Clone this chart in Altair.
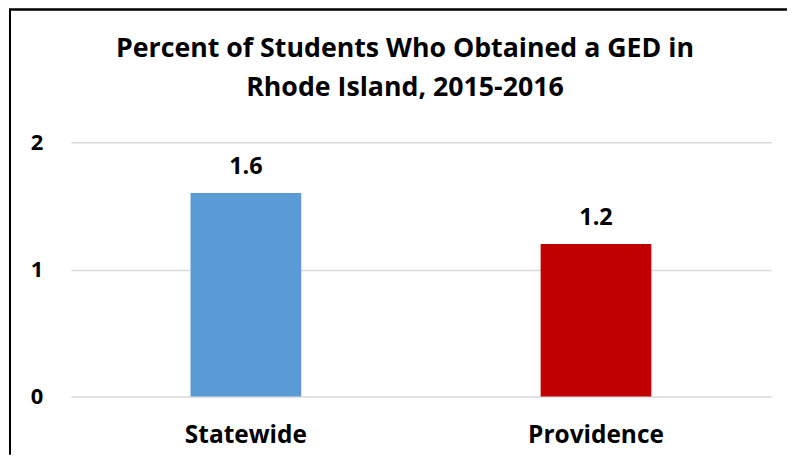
import altair as alt
import pandas as pd

categories = ["Statewide", "Providence"]
values = [1.6, 1.2]
colors = ["#5B9BD5", "#C00000"]
y_ticks = [0, 1, 2]

df = pd.DataFrame({"area": categories, "pct": values, "color": colors})

W, H = 702, 255
FONT = "Open Sans"

base = alt.Chart(df).encode(
    x=alt.X("area:N", sort=categories,
            scale=alt.Scale(paddingInner=0, paddingOuter=0),
            axis=alt.Axis(title=None, labelAngle=0, labelFont=FONT, labelFontSize=24.5,
                          labelFontWeight="bold", labelColor="#000000", labelPadding=27,
                          ticks=False, domain=False, grid=False)),
    y=alt.Y("pct:Q", scale=alt.Scale(domain=[0, 2], nice=False),
            axis=alt.Axis(title=None, values=y_ticks, labelExpr="toString(datum.value)",
                          labelFont=FONT, labelFontSize=22, labelFontWeight="bold",
                          labelColor="#000000", labelPadding=28, labelOverlap=False,
                          ticks=False, domain=False, gridColor="#D9D9D9", gridWidth=1.5)),
)

bars = base.mark_bar(size=111).encode(color=alt.Color("color:N", scale=None))
labels = base.mark_text(baseline="alphabetic", dy=-19, font=FONT, fontSize=23.5,
                        fontWeight="bold", color="#000000").encode(
    text=alt.Text("pct:Q", format=".1f"))

frame_left = alt.Chart(df).mark_rule(color="#000000", strokeWidth=2).encode(
    x=alt.value(-61), y=alt.value(-133), y2=alt.value(H + 58))
frame_top = alt.Chart(df).mark_rule(color="#000000", strokeWidth=2).encode(
    x=alt.value(-62), x2=alt.value(W + 16), y=alt.value(-133))

chart = alt.layer(bars, labels, frame_left, frame_top).properties(
    width=W, height=H,
    padding={"left": 0, "top": 0, "right": 0, "bottom": 0},
    title=alt.TitleParams(
        ["Percent of Students Who Obtained a GED in", "Rhode Island, 2015-2016"],
        font=FONT, fontSize=26.8, fontWeight="bold", color="#000000",
        anchor="middle", dx=-16, lineHeight=39, offset=-93),
).configure_view(stroke=None)

chart.save("out.html", embed_options={"renderer": "svg", "actions": False})
